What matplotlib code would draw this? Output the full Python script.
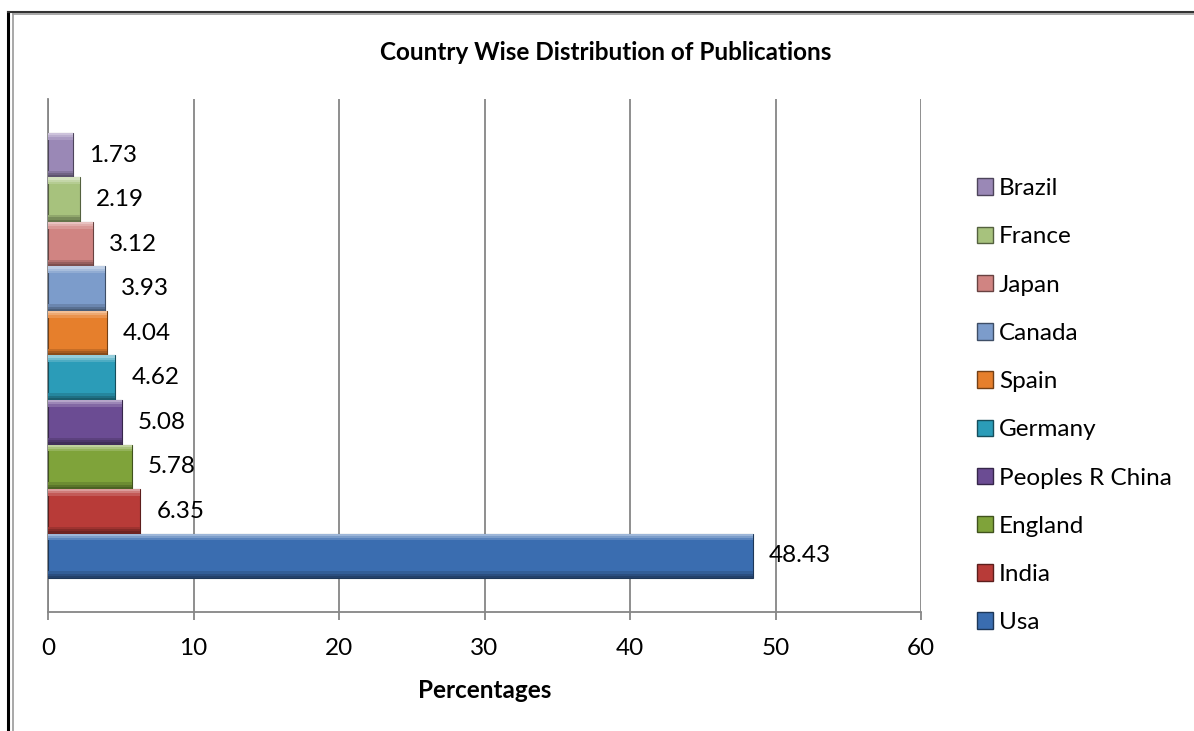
import matplotlib.pyplot as plt
from matplotlib.patches import Patch
from matplotlib.lines import Line2D
import matplotlib.colors as mcolors
import numpy as np

countries = ["Usa", "India", "England", "Peoples R China", "Germany",
             "Spain", "Canada", "Japan", "France", "Brazil"]
percent = [48.43, 6.35, 5.78, 5.08, 4.62, 4.04, 3.93, 3.12, 2.19, 1.73]
colors = ["#3A6DB0", "#B83B38", "#7FA33A", "#6B4C93", "#2B9CB8",
          "#E67F2C", "#7C9CCB", "#D08482", "#A7C27D", "#9A88B6"]
xticks = [0, 10, 20, 30, 40, 50, 60]

plt.rcParams['font.family'] = ['Lato', 'DejaVu Sans']
fs = 17.5


def shade(c, f):
    # f > 0 lighter, f < 0 darker
    r = np.array(mcolors.to_rgb(c))
    if f > 0:
        r = r + (1 - r) * f
    else:
        r = r * (1 + f)
    return tuple(r)


fig = plt.figure(figsize=(11.94, 7.31), dpi=100)
ax = fig.add_axes([0.0402, 0.1628, 0.7312, 0.7018])

y = np.arange(len(countries))
h = 1.0
ax.barh(y, percent, height=h, color=colors, edgecolor=[shade(c, -0.5) for c in colors],
        linewidth=0.8, zorder=3)
# bevel look: light strips on top, dark strips at bottom
sh = 0.05
steps = [(0, 0.5, -0.4), (1, 0.33, -0.28), (2, 0.16, -0.14)]
for k, lt, dk in steps:
    ax.barh(y + h / 2 - sh * (k + 0.5), percent, height=sh,
            color=[shade(c, lt) for c in colors], linewidth=0, zorder=4)
    ax.barh(y - h / 2 + sh * (k + 0.5), percent, height=sh,
            color=[shade(c, dk) for c in colors], linewidth=0, zorder=4)

for yi, v in zip(y, percent):
    ax.text(v + 1.1, yi, f"{v:.2f}", va='center', ha='left', fontsize=fs, zorder=5)

ax.set_xlim(0, 60)
ax.set_ylim(-1.262, 10.262)
ax.set_xticks(xticks)
ax.set_xticklabels([str(v) for v in xticks], fontsize=fs)
ax.set_yticks([])
ax.grid(axis='x', color='#868686', linewidth=1.3, zorder=0)
for s in ['top', 'right']:
    ax.spines[s].set_visible(False)
ax.spines['left'].set_color('#868686')
ax.spines['bottom'].set_color('#868686')
ax.spines['left'].set_linewidth(1.3)
ax.spines['bottom'].set_linewidth(1.3)
ax.tick_params(axis='x', length=6, width=1.3, color='#868686', pad=13)
ax.set_xlabel("Percentages", fontsize=fs, fontweight='bold', labelpad=14)

fig.text(0.507, 0.9275, "Country Wise Distribution of Publications",
         ha='center', va='center', fontsize=fs, fontweight='bold')

handles = [Patch(facecolor=colors[i], edgecolor=shade(colors[i], -0.5), label=countries[i])
           for i in range(len(countries))][::-1]
fig.legend(handles=handles, loc='center left', bbox_to_anchor=(0.818, 0.445),
           frameon=False, fontsize=fs, handlelength=0.66, handleheight=0.66,
           handletextpad=0.25, labelspacing=1.12, borderpad=0, borderaxespad=0)

# outer frame lines (left and top)
fig.add_artist(Line2D([0.0067, 0.0067], [0, 0.984], color='black', linewidth=2.2))
fig.add_artist(Line2D([0.0067, 1], [0.984, 0.984], color='#333333', linewidth=1.5))
fig.add_artist(Line2D([0.0105, 0.0105], [0, 0.981], color='#999999', linewidth=1.2))
fig.add_artist(Line2D([0.0105, 1], [0.981, 0.981], color='#999999', linewidth=1.2))

fig.savefig("out.png", dpi=100)
